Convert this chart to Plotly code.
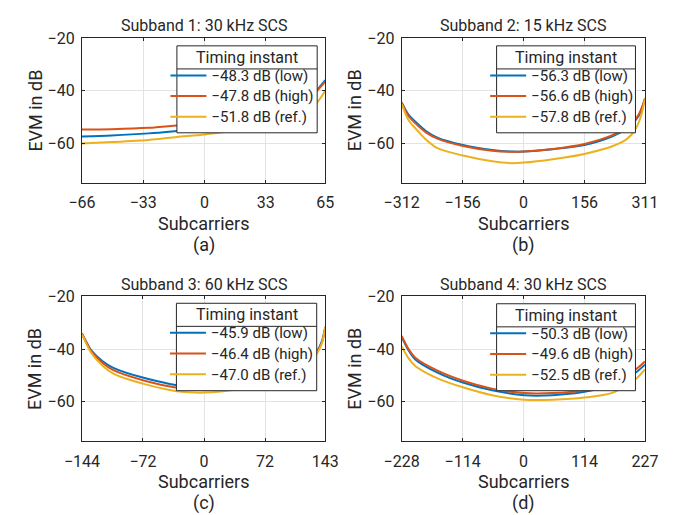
import plotly.graph_objects as go

# ---------------- data ----------------
titles = ["Subband 1: 30 kHz SCS", "Subband 2: 15 kHz SCS",
          "Subband 3: 60 kHz SCS", "Subband 4: 30 kHz SCS"]
sublabels = ["(a)", "(b)", "(c)", "(d)"]
xticks = [[-66, -33, 0, 33, 65], [-312, -156, 0, 156, 311],
          [-144, -72, 0, 72, 143], [-228, -114, 0, 114, 227]]
yticks = [-20, -40, -60]
series_names = ["low", "high", "ref."]
legend_labels = [
    ["−48.3 dB (low)", "−47.8 dB (high)", "−51.8 dB (ref.)"],
    ["−56.3 dB (low)", "−56.6 dB (high)", "−57.8 dB (ref.)"],
    ["−45.9 dB (low)", "−46.4 dB (high)", "−47.0 dB (ref.)"],
    ["−50.3 dB (low)", "−49.6 dB (high)", "−52.5 dB (ref.)"],
]

# subband 1
a_x_low = [-66, -50, -30, -15, 0, 15, 30, 45, 55, 60.5, 65]
a_y_low = [-57.4, -57.0, -56.2, -55.3, -54.3, -53.0, -51.0, -48.0, -44.0, -39.8, -36.0]
a_x_high = [-66, -50, -30, -15, 0, 15, 30, 45, 55, 60.5, 65]
a_y_high = [-54.7, -54.6, -54.1, -53.2, -52.3, -51.0, -49.2, -46.5, -43.0, -40.0, -36.5]
a_x_ref = [-66, -50, -30, -15, 0, 12, 30, 45, 55, 60.5, 65]
a_y_ref = [-60.0, -59.5, -58.7, -57.6, -56.6, -55.5, -53.5, -50.5, -47.5, -44.5, -40.0]

# subband 2
b_x_low = [-312, -295, -276, -250, -219, -155, -80, -31, 1, 75, 156, 229, 270, 295, 311]
b_y_low = [-44.5, -49.0, -51.9, -55.3, -57.9, -60.6, -62.5, -63.1, -63.1, -62.2, -60.6, -57.2, -53.8, -49.5, -43.0]
b_x_high = [-312, -295, -276, -250, -219, -155, -80, -31, 1, 75, 156, 229, 270, 295, 311]
b_y_high = [-44.5, -49.5, -52.5, -55.8, -58.3, -61.0, -62.8, -63.2, -63.1, -62.1, -60.2, -56.8, -53.3, -49.0, -43.0]
b_x_ref = [-312, -295, -276, -250, -219, -155, -80, -31, 1, 75, 156, 229, 265, 285, 300, 311]
b_y_ref = [-45.0, -51.0, -54.4, -58.5, -61.9, -64.6, -66.8, -67.5, -67.3, -66.0, -64.0, -61.0, -58.3, -55.0, -50.0, -43.0]

# subband 3
c_x_low = [-144, -138, -133, -120, -107, -69, -32, -10, 20, 60, 100, 125, 133, 139, 143]
c_y_low = [-34.1, -37.8, -40.5, -44.5, -47.1, -51.1, -53.7, -54.3, -54.2, -53.0, -49.5, -44.0, -41.0, -37.0, -31.6]
c_x_high = [-144, -138, -133, -120, -107, -69, -32, -10, 20, 60, 100, 125, 133, 139, 143]
c_y_high = [-34.1, -38.0, -40.8, -45.2, -48.0, -52.1, -54.7, -55.4, -55.2, -54.0, -50.5, -45.0, -41.5, -37.5, -31.6]
c_x_ref = [-144, -138, -133, -120, -107, -69, -32, -13, 10, 24, 60, 100, 125, 133, 139, 143]
c_y_ref = [-34.3, -38.5, -41.5, -46.2, -49.3, -53.4, -56.0, -56.5, -56.4, -55.9, -54.5, -51.0, -45.5, -41.8, -37.8, -31.6]

# subband 4
d_x_low = [-228, -215, -202, -160, -112, -59, 1, 54, 114, 167, 209, 227]
d_y_low = [-35.3, -40.5, -44.0, -49.0, -52.8, -55.6, -57.5, -57.5, -56.2, -53.6, -49.0, -45.9]
d_x_high = [-228, -215, -202, -160, -112, -59, 1, 54, 114, 167, 209, 227]
d_y_high = [-35.0, -40.0, -43.4, -48.3, -52.1, -55.0, -56.7, -56.7, -55.6, -53.0, -47.8, -44.7]
d_x_ref = [-228, -215, -202, -160, -112, -59, 1, 54, 114, 167, 209, 227]
d_y_ref = [-39.0, -43.5, -46.5, -51.2, -54.6, -57.5, -59.2, -59.2, -58.4, -56.5, -51.5, -47.7]

panels = [
    [(a_x_low, a_y_low), (a_x_high, a_y_high), (a_x_ref, a_y_ref)],
    [(b_x_low, b_y_low), (b_x_high, b_y_high), (b_x_ref, b_y_ref)],
    [(c_x_low, c_y_low), (c_x_high, c_y_high), (c_x_ref, c_y_ref)],
    [(d_x_low, d_y_low), (d_x_high, d_y_high), (d_x_ref, d_y_ref)],
]
colors = ["#0072BD", "#D95319", "#EDB120"]

# ---------------- layout geometry (pixels) ----------------
W, H = 679, 515
FONT = "Roboto"
TXT = "#262626"
# plot boxes: (left, right, top, bottom)
boxes = [(67, 322, 29.5, 177), (402, 657, 29.5, 177),
         (67, 322, 292.5, 440), (402, 657, 292.5, 440)]
# legend boxes: (left, right, top, separator, bottom)
legboxes = [(166.5, 313.5, 37.5, 61, 126), (501.5, 647, 37.5, 61, 126),
            (166, 313, 299.5, 323, 388.5), (501.5, 647, 300, 323.5, 388.5)]

def px(x):
    return x / W

def py(y):
    return 1 - y / H

fig = go.Figure()
legend_ids = ["legend", "legend2", "legend3", "legend4"]
for i, panel in enumerate(panels):
    xa = "x" if i == 0 else f"x{i+1}"
    ya = "y" if i == 0 else f"y{i+1}"
    for j, (xs, ys) in enumerate(panel):
        fig.add_trace(go.Scatter(
            x=xs, y=ys, mode="lines",
            name=f'<span style="font-size:15px">{legend_labels[i][j]}</span>',
            line=dict(color=colors[j], width=2, shape="spline", smoothing=0.8),
            xaxis=xa, yaxis=ya, legend=legend_ids[i], showlegend=True,
        ))

layout = dict(
    width=W, height=H, margin=dict(l=0, r=0, t=0, b=0),
    paper_bgcolor="white", plot_bgcolor="white",
    font=dict(family=FONT, size=15, color=TXT),
    shapes=[], annotations=[],
)

for i in range(4):
    l, r, t, b = boxes[i]
    xs = "" if i == 0 else str(i + 1)
    xk, yk = f"xaxis{xs}", f"yaxis{xs}"
    xt = xticks[i]
    layout[xk] = dict(
        domain=[px(l), px(r)], anchor=f"y{xs}", range=[xt[0], xt[-1]],
        tickmode="array", tickvals=xt, ticks="inside", ticklen=3,
        tickcolor=TXT, showline=True, linecolor=TXT, linewidth=1, mirror="ticks",
        showgrid=True, gridcolor="#e3e3e3", gridwidth=1, zeroline=False,
        tickfont=dict(size=16, color=TXT), ticklabelstandoff=5,
    )
    layout[yk] = dict(
        domain=[py(b), py(t)], anchor=f"x{xs}", range=[-75, -20],
        tickmode="array", tickvals=yticks, ticks="inside", ticklen=3,
        tickcolor=TXT, showline=True, linecolor=TXT, linewidth=1, mirror="ticks",
        showgrid=True, gridcolor="#e3e3e3", gridwidth=1, zeroline=False,
        tickfont=dict(size=16, color=TXT), ticklabelstandoff=3,
    )
    cx = (l + r) / 2
    # title
    layout["annotations"].append(dict(
        text=titles[i], x=px(cx), y=py(t - 12.5), xref="paper", yref="paper",
        showarrow=False, xanchor="center", yanchor="middle",
        font=dict(size=16, color=TXT)))
    # x axis title
    layout["annotations"].append(dict(
        text="Subcarriers", x=px(cx), y=py(b + 41), xref="paper", yref="paper",
        showarrow=False, xanchor="center", yanchor="middle",
        font=dict(size=18, color=TXT)))
    # sublabel
    layout["annotations"].append(dict(
        text=sublabels[i], x=px(cx), y=py(b + 63), xref="paper", yref="paper",
        showarrow=False, xanchor="center", yanchor="middle",
        font=dict(size=18, color=TXT)))
    # y axis title
    layout["annotations"].append(dict(
        text="EVM in dB", x=px(l - 49), y=py((t + b) / 2), xref="paper", yref="paper",
        showarrow=False, xanchor="center", yanchor="middle", textangle=-90,
        font=dict(size=18, color=TXT)))

    # legend box
    ll, lr, lt, ls, lb = legboxes[i]
    layout["shapes"].append(dict(
        type="rect", xref="paper", yref="paper", x0=px(ll), x1=px(lr),
        y0=py(lb), y1=py(lt), fillcolor="white",
        line=dict(color=TXT, width=1), layer="above"))
    layout["shapes"].append(dict(
        type="line", xref="paper", yref="paper", x0=px(ll), x1=px(lr),
        y0=py(ls), y1=py(ls), line=dict(color=TXT, width=1), layer="above"))
    lid = "legend" if i == 0 else f"legend{i+1}"
    layout[lid] = dict(
        x=px(ll - 12), y=py(ls - 9), xanchor="left", yanchor="top",
        bgcolor="rgba(0,0,0,0)", borderwidth=0, itemwidth=36,
        font=dict(size=13.6, color=TXT), tracegroupgap=0,
    )
    layout["annotations"].append(dict(
        text="Timing instant", x=px((ll + lr) / 2), y=py((lt + ls) / 2),
        xref="paper", yref="paper", showarrow=False,
        xanchor="center", yanchor="middle", font=dict(size=16, color=TXT)))

fig.update_layout(**layout)
fig.write_html("out.html")
